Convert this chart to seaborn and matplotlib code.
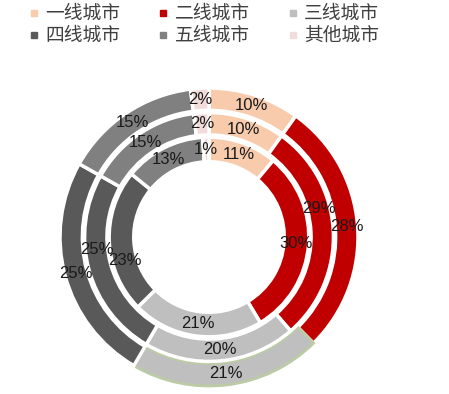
import matplotlib
matplotlib.use("Agg")
import matplotlib.pyplot as plt
from matplotlib.lines import Line2D
import seaborn as sns
import numpy as np

categories = ["一线城市", "二线城市", "三线城市", "四线城市", "五线城市", "其他城市"]
outer_vals = [10, 28, 21, 25, 15, 2]
middle_vals = [10, 29, 20, 25, 15, 2]
inner_vals = [11, 30, 21, 23, 13, 1]

colors = ["#F8CBAD", "#C00000", "#BFBFBF", "#595959", "#808080", "#F2DCDB"]

sns.set_theme(style="white")
plt.rcParams["font.family"] = ["Noto Sans CJK SC", "DejaVu Sans"]

fig = plt.figure(figsize=(4.49, 3.94), dpi=100)
ax = fig.add_axes([60 / 449, 8 / 394, 298 / 449, 298 / 394])

# (values, outer radius, ring width)
rings = [(outer_vals, 1.0, 0.15), (middle_vals, 0.835, 0.15), (inner_vals, 0.67, 0.165)]

# nudge a few labels along their arc (degrees, + = counterclockwise) so they don't collide
nudge = {(1, 1): 12, (1, 3): -9, (2, 3): 13}

for i, (vals, r, w) in enumerate(rings):
    wedges, _ = ax.pie(vals, radius=r, colors=colors, startangle=90,
                       counterclock=False,
                       wedgeprops=dict(width=w, edgecolor="white", linewidth=2.5))
    if i == 0:
        # outer 三线 segment has a pale green outline
        wedges[2].set_edgecolor("#BCCBA5")
        wedges[2].set_linewidth(2)
    rm = r - w / 2
    for j, (wd, v) in enumerate(zip(wedges, vals)):
        ang = np.deg2rad((wd.theta1 + wd.theta2) / 2 + nudge.get((i, j), 0))
        ax.text(rm * np.cos(ang), rm * np.sin(ang), f"{v}%",
                ha="center", va="center", fontsize=12,
                family="Liberation Sans", color="#1a1a1a")

ax.set_xlim(-1, 1)
ax.set_ylim(-1, 1)
ax.set_aspect("equal")
ax.axis("off")

# legend fills column by column, so reorder to read row by row
order = [0, 3, 1, 4, 2, 5]
handles = [Line2D([], [], marker="s", linestyle="", markersize=5,
                  markerfacecolor=colors[k], markeredgecolor=colors[k]) for k in order]
labels = [categories[k] for k in order]
fig.legend(handles, labels, loc="upper left", bbox_to_anchor=(17 / 449, 1.0 + 8 / 394),
           ncol=3, frameon=False, fontsize=13.5, handlelength=0.6,
           handletextpad=0.3, columnspacing=2.0, labelspacing=0.05,
           labelcolor="#404040", borderpad=0.1)

fig.savefig("out.png", dpi=100)
